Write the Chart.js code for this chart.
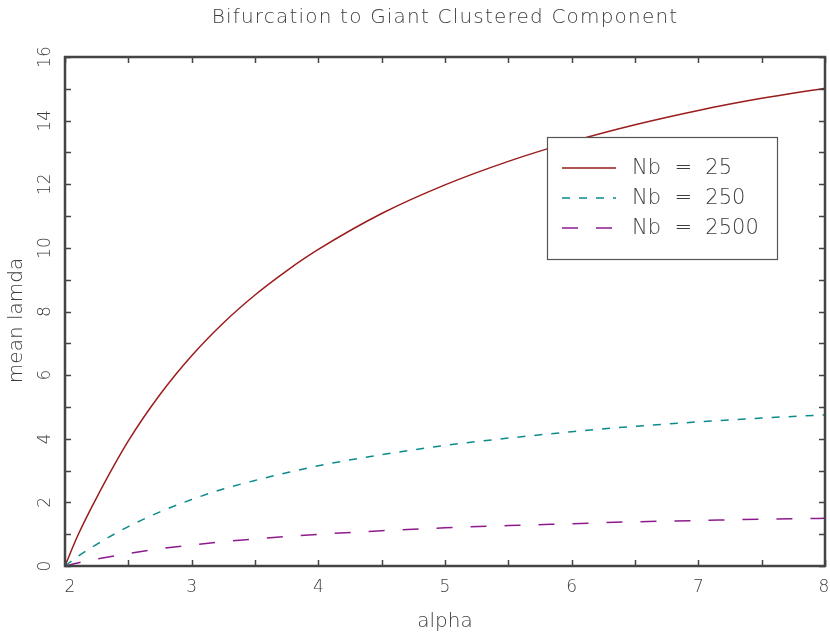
<!DOCTYPE html>
<html>
<head>
<meta charset="utf-8">
<title>Bifurcation to Giant Clustered Component</title>
<script src="https://cdn.jsdelivr.net/npm/chart.js@4.4.0/dist/chart.umd.min.js"></script>
<style>
  body { margin: 0; background: #fff; }
  canvas { display: block; }
</style>
</head>
<body>
<canvas id="plot" width="830" height="637"></canvas>
<script>
'use strict';

//values
var alphaValues = [2, 2.1, 2.25, 2.5, 2.75, 3, 3.25, 3.5, 3.75, 4, 4.5, 5, 5.5, 6, 6.5, 7, 7.5, 8];
var lamdaNb25 = [0, 0.95, 2.15, 3.93, 5.39, 6.61, 7.64, 8.52, 9.28, 9.95, 11.08, 11.98, 12.72, 13.34, 13.87, 14.32, 14.70, 15.02];
var lamdaNb250 = [0, 0.30, 0.68, 1.24, 1.70, 2.09, 2.42, 2.69, 2.93, 3.15, 3.50, 3.79, 4.02, 4.22, 4.39, 4.53, 4.65, 4.75];
var lamdaNb2500 = [0, 0.095, 0.215, 0.393, 0.54, 0.66, 0.765, 0.852, 0.93, 0.995, 1.11, 1.20, 1.27, 1.33, 1.39, 1.43, 1.47, 1.50];
var seriesNames = ['Nb  =  25', 'Nb  =  250', 'Nb  =  2500'];

//axis ticks
var xTickLabels = [2, 3, 4, 5, 6, 7, 8];
var xMinorTicks = [2.5, 3.5, 4.5, 5.5, 6.5, 7.5];
var yTickLabels = [0, 2, 4, 6, 8, 10, 12, 14, 16];
var yMinorTicks = [1, 3, 5, 7, 9, 11, 13, 15];

var chartTitle = 'Bifurcation to Giant Clustered Component';
var xTitle = 'alpha';
var yTitle = 'mean lamda';

var textColor = '#3c3c3c';
var fontName = '"DejaVu Sans", sans-serif';

//turn two arrays into {x, y} points
function makePoints(xs, ys) {
  var points = [];
  for (var i = 0; i < xs.length; i++) {
    points.push({ x: xs[i], y: ys[i] });
  }
  return points;
}

//frame, ticks, labels and the boxed legend
var decorPlugin = {
  id: 'decor',
  afterDraw: function (chart) {
    var ctx = chart.ctx;
    var area = chart.chartArea;
    var xs = chart.scales.x;
    var ys = chart.scales.y;
    var i, px, py;

    ctx.save();
    ctx.strokeStyle = '#444';
    ctx.lineWidth = 1.5;

    //ticks pointing inward on all four sides
    ctx.beginPath();
    var allX = xTickLabels.concat(xMinorTicks);
    for (i = 0; i < allX.length; i++) {
      px = Math.round(xs.getPixelForValue(allX[i])) + 0.5;
      ctx.moveTo(px, area.bottom);
      ctx.lineTo(px, area.bottom - 6);
      ctx.moveTo(px, area.top);
      ctx.lineTo(px, area.top + 6);
    }
    var allY = yTickLabels.concat(yMinorTicks);
    for (i = 0; i < allY.length; i++) {
      py = Math.round(ys.getPixelForValue(allY[i])) + 0.5;
      ctx.moveTo(area.left, py);
      ctx.lineTo(area.left + 6, py);
      ctx.moveTo(area.right, py);
      ctx.lineTo(area.right - 6, py);
    }
    ctx.stroke();

    //frame
    ctx.lineWidth = 2.5;
    ctx.strokeRect(area.left, area.top, area.right - area.left, area.bottom - area.top);

    ctx.fillStyle = textColor;
    ctx.font = '200 17px ' + fontName;

    //x tick labels (first one sits a little right of its tick, last one kept inside)
    ctx.textAlign = 'center';
    ctx.textBaseline = 'middle';
    for (i = 0; i < xTickLabels.length; i++) {
      px = xs.getPixelForValue(xTickLabels[i]);
      if (i === 0) px += 5;
      if (i === xTickLabels.length - 1) px -= 1;
      ctx.fillText(String(xTickLabels[i]), px, area.bottom + 22);
    }

    //y tick labels, turned to read upwards
    for (i = 0; i < yTickLabels.length; i++) {
      py = ys.getPixelForValue(yTickLabels[i]);
      ctx.save();
      ctx.translate(area.left - 19, py);
      ctx.rotate(-Math.PI / 2);
      ctx.fillText(String(yTickLabels[i]), 0, 0);
      ctx.restore();
    }

    //axis titles
    ctx.font = '200 20px ' + fontName;
    ctx.fillText(xTitle, (area.left + area.right) / 2, 622);
    ctx.save();
    ctx.translate(17, (area.top + area.bottom) / 2 + 9);
    ctx.rotate(-Math.PI / 2);
    ctx.fillText(yTitle, 0, 0);
    ctx.restore();

    //main title
    ctx.font = '200 20px ' + fontName;
    ctx.letterSpacing = '1.2px';
    ctx.fillText(chartTitle, (area.left + area.right) / 2, 18);
    ctx.letterSpacing = '0px';

    //legend box
    var boxLeft = 547, boxTop = 137, boxRight = 777, boxBottom = 259;
    ctx.fillStyle = '#fff';
    ctx.fillRect(boxLeft, boxTop, boxRight - boxLeft, boxBottom - boxTop);
    ctx.strokeStyle = '#555';
    ctx.lineWidth = 1.2;
    ctx.strokeRect(boxLeft + 0.5, boxTop + 0.5, boxRight - boxLeft, boxBottom - boxTop);

    ctx.textAlign = 'left';
    ctx.font = '200 21px ' + fontName;
    for (i = 0; i < chart.data.datasets.length; i++) {
      var ds = chart.data.datasets[i];
      var rowY = 168 + i * 30;
      ctx.strokeStyle = ds.borderColor;
      ctx.lineWidth = ds.borderWidth;
      ctx.setLineDash(ds.borderDash || []);
      ctx.beginPath();
      ctx.moveTo(562, rowY);
      ctx.lineTo(616, rowY);
      ctx.stroke();
      ctx.setLineDash([]);
      ctx.fillStyle = textColor;
      ctx.fillText(ds.label, 632, rowY + 1);
    }
    ctx.restore();
  }
};

var ctx = document.getElementById('plot').getContext('2d');

new Chart(ctx, {
  type: 'line',
  data: {
    datasets: [
      {
        label: seriesNames[0],
        data: makePoints(alphaValues, lamdaNb25),
        borderColor: '#9b1c1c',
        borderWidth: 1.5
      },
      {
        label: seriesNames[1],
        data: makePoints(alphaValues, lamdaNb250),
        borderColor: '#0b8b8b',
        borderWidth: 1.5,
        borderDash: [8, 9]
      },
      {
        label: seriesNames[2],
        data: makePoints(alphaValues, lamdaNb2500),
        borderColor: '#8e1a8e',
        borderWidth: 1.5,
        borderDash: [16, 18]
      }
    ]
  },
  options: {
    responsive: false,
    animation: false,
    devicePixelRatio: 1,
    layout: { padding: { left: 65, right: 5, top: 57, bottom: 71 } },
    elements: {
      point: { radius: 0 },
      line: { cubicInterpolationMode: 'monotone', fill: false }
    },
    scales: {
      x: { type: 'linear', min: 2, max: 8, display: false },
      y: { type: 'linear', min: 0, max: 16, display: false }
    },
    plugins: {
      legend: { display: false },
      tooltip: { enabled: false }
    }
  },
  plugins: [decorPlugin]
});
</script>
</body>
</html>
